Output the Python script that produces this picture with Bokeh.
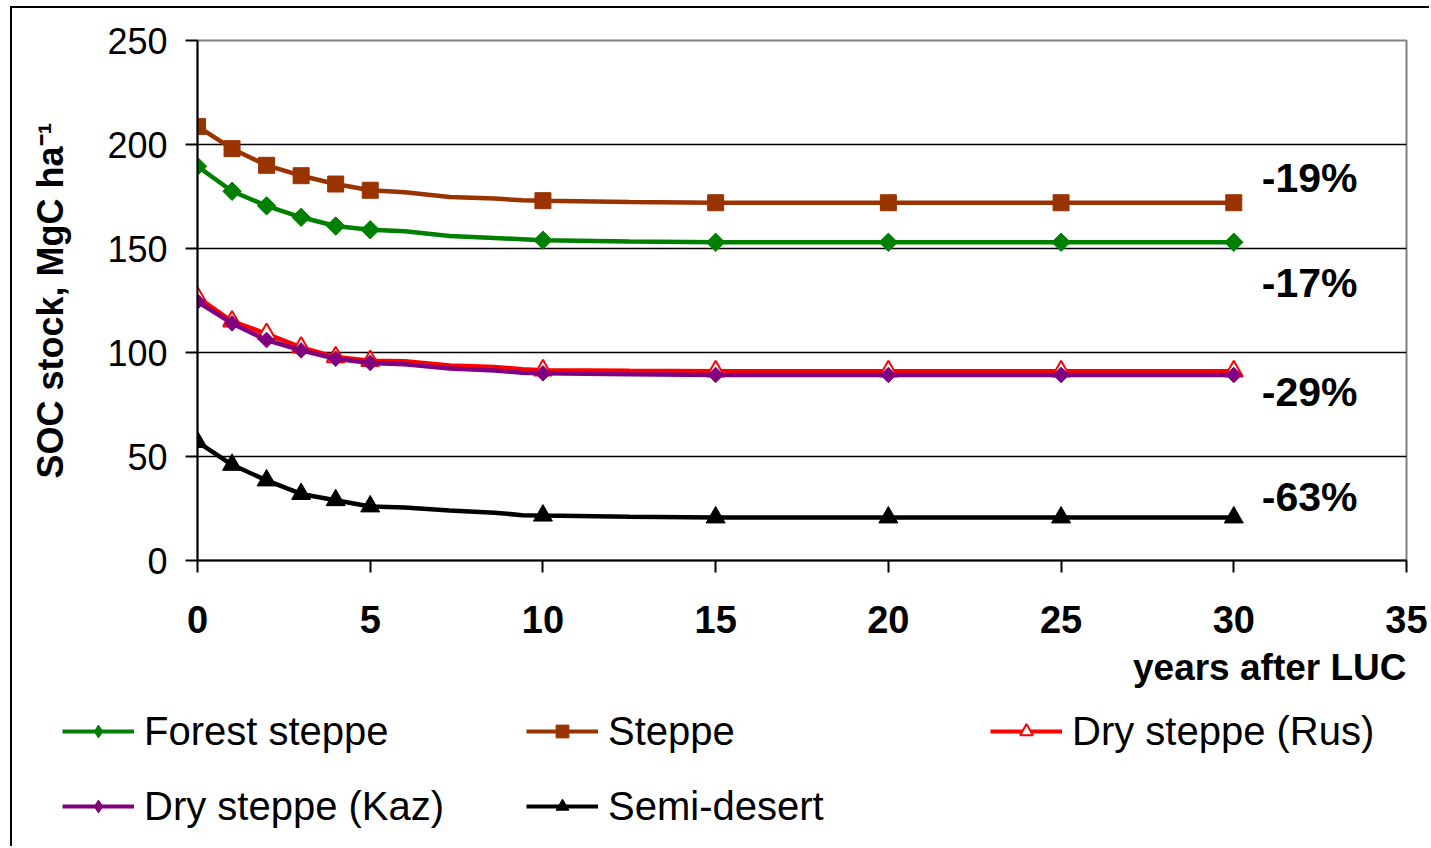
from math import pi
from bokeh.plotting import figure
from bokeh.layouts import column
from bokeh.models import (Range1d, Label, Legend, LegendItem, Title, FixedTicker)
from bokeh.embed import file_html
from bokeh.resources import INLINE

# ---------------- data ----------------
years_line = [0, 1, 2, 3, 4, 5, 6, 7.3, 8.6, 9.4, 10, 12.5, 15, 20, 25, 30]
marker_years = [0, 1, 2, 3, 4, 5, 10, 15, 20, 25, 30]

forest_steppe = [189.5, 177.5, 170.5, 165, 160.8, 159, 158.3, 156, 155, 154.5, 154, 153.4, 153, 153, 153, 153]
steppe = [208.7, 198, 190, 185, 181, 178, 177, 174.8, 174, 173.2, 173, 172.3, 172, 172, 172, 172]
dry_steppe_rus = [126.5, 115, 109, 102.5, 97.8, 96, 95.8, 93.7, 93, 92, 91.5, 91.2, 91, 91, 91, 91]
dry_steppe_kaz = [124.5, 114, 106, 101, 97, 95, 94.3, 92.3, 91.3, 90.3, 90, 89.5, 89.2, 89.2, 89.2, 89.2]
semi_desert = [57, 46, 38.5, 32, 29, 26, 25.5, 24, 23, 21.8, 21.6, 21, 20.7, 20.7, 20.7, 20.7]

series_names = ["Forest steppe", "Steppe", "Dry steppe (Rus)", "Dry steppe (Kaz)", "Semi-desert"]
change_labels = ["-19%", "-17%", "-29%", "-63%"]
change_label_y = [184.1, 133.2, 80.8, 30.3]

y_ticks = [0, 50, 100, 150, 200, 250]
x_ticks = [0, 5, 10, 15, 20, 25, 30, 35]
x_title = "years after LUC"
y_title = "SOC stock, MgC ha\u207b\u00b9"

FONT = "Liberation Sans"

p = figure(width=1419, height=700, output_backend="svg", toolbar_location=None,
           x_range=Range1d(0, 35), y_range=Range1d(0, 250),
           min_border_left=185, min_border_right=25, min_border_top=32,
           min_border_bottom=148,
           styles={"margin-left": "10px", "margin-top": "6px",
                   "border-left": "2px solid black", "border-top": "2px solid black"})
p.background_fill_color = "white"
p.border_fill_color = "white"
p.outline_line_color = "#808080"
p.outline_line_width = 2

p.xgrid.visible = False
p.ygrid.ticker = FixedTicker(ticks=[50, 100, 150, 200])
p.ygrid.grid_line_color = "black"
p.ygrid.grid_line_width = 1.6

for ax in (p.xaxis[0], p.yaxis[0]):
    ax.axis_line_color = "black"
    ax.axis_line_width = 2
    ax.major_tick_line_color = "black"
    ax.major_tick_line_width = 2
    ax.major_tick_in = 0
    ax.major_tick_out = 12
    ax.minor_tick_line_color = None
    ax.major_label_text_font = FONT
    ax.major_label_text_color = "black"

p.yaxis.ticker = FixedTicker(ticks=y_ticks)
p.yaxis.major_label_text_font_size = "36px"
p.yaxis.major_label_standoff = 18
p.yaxis.axis_label = y_title
p.yaxis.axis_label_text_font = FONT
p.yaxis.axis_label_text_font_size = "36px"
p.yaxis.axis_label_text_font_style = "bold"
p.yaxis.axis_label_text_color = "black"
p.yaxis.axis_label_standoff = 33

p.xaxis.ticker = FixedTicker(ticks=x_ticks)
p.xaxis.major_label_text_font_size = "38px"
p.xaxis.major_label_text_font_style = "bold"
p.xaxis.major_label_standoff = 33


def sub(vals):
    return [v for x, v in zip(years_line, vals) if x in marker_years]


styles = [
    (forest_steppe, "#008000", dict(marker="square", size=13, angle=pi / 4, fill_color="#008000", line_color="#008000")),
    (steppe, "#993300", dict(marker="square", size=16, fill_color="#993300", line_color="#993300")),
    (dry_steppe_rus, "#FF0000", dict(marker="triangle", size=18, fill_color="white", line_color="#FF0000", line_width=2)),
    (dry_steppe_kaz, "#800080", dict(marker="square", size=11, angle=pi / 4, fill_color="#800080", line_color="#800080")),
    (semi_desert, "black", dict(marker="triangle", size=19, fill_color="black", line_color="black")),
]


def legend_marker(mk):
    # legend swatches ignore the marker angle, so rotated squares become diamonds
    mk = dict(mk)
    if "angle" in mk:
        mk.pop("angle")
        mk["marker"] = "diamond"
    return mk


# legend panel: a second figure below the chart; its range shows none of the
# series, it only hosts the legend entries
p2 = figure(width=1419, height=140, output_backend="svg", toolbar_location=None,
            x_range=Range1d(0, 35), y_range=Range1d(300, 400), min_border=0,
            x_axis_location=None, y_axis_location=None,
            styles={"margin-left": "10px", "border-left": "2px solid black"})
p2.frame_align = False
p2.grid.visible = False
p2.outline_line_color = None
p2.background_fill_color = "white"
p2.border_fill_color = "white"

items = {}
for name, (vals, col, mk) in zip(series_names, styles):
    p.line(years_line, vals, line_color=col, line_width=4.5)
    p.scatter(marker_years, sub(vals), **mk)
    lr = p2.line(years_line, vals, line_color=col, line_width=4)
    sr = p2.scatter(marker_years, sub(vals), **legend_marker(mk))
    items[name] = LegendItem(label=name, renderers=[lr, sr])

# legend fills column by column; this order gives rows
# [Forest steppe, Steppe, Dry steppe (Rus)] / [Dry steppe (Kaz), Semi-desert]
legend_order = [0, 3, 1, 4, 2]
legend = Legend(items=[items[series_names[i]] for i in legend_order], ncols=3,
                location=(50, 15),
                glyph_width=72, glyph_height=32, label_standoff=10,
                label_width=357, label_height=50, spacing=25,
                padding=0, margin=0, border_line_alpha=0, background_fill_alpha=0,
                label_text_font=FONT, label_text_font_size="40px", label_text_color="black")
p2.add_layout(legend, "center")

p.add_layout(Title(text=x_title, align="right", text_font=FONT, text_font_size="37px",
                   text_font_style="bold", text_color="black", standoff=19), "below")

for txt, yy in zip(change_labels, change_label_y):
    p.add_layout(Label(x=30.81, y=yy, text=txt, text_font=FONT, text_font_size="41px",
                       text_font_style="bold", text_color="black",
                       text_align="left", text_baseline="middle"))

layout = column(p, p2, spacing=0)
open("out.html", "w").write(file_html(layout, INLINE))
